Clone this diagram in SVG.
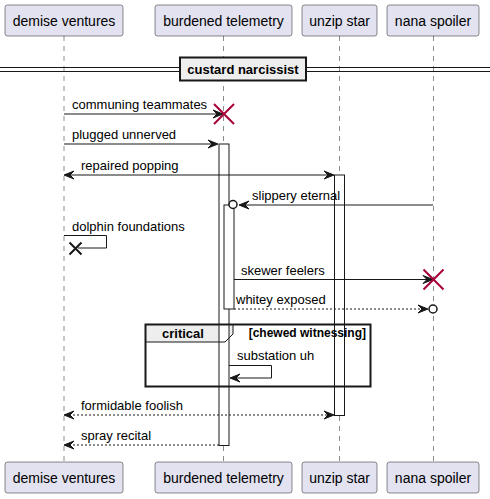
<svg xmlns="http://www.w3.org/2000/svg" width="490" height="499" viewBox="0 0 490 499">
<defs>
<style>
.pbox{fill:#E2E2F0;stroke:#181818;stroke-width:0.5}
.ptxt{font-family:"Liberation Sans",Arial,sans-serif;font-size:14px;fill:#000;text-anchor:middle}
.life{stroke:#181818;stroke-width:0.5;stroke-dasharray:5,5;fill:none}
.msg{stroke:#181818;stroke-width:1;fill:none}
.dash{stroke:#181818;stroke-width:1;stroke-dasharray:2,2;fill:none}
.head{fill:#181818;stroke:#181818;stroke-width:1}
.mtxt{font-family:"Liberation Sans",Arial,sans-serif;font-size:13px;fill:#000}
.act{fill:#FFFFFF;stroke:#181818;stroke-width:1}
.xred{stroke:#A80036;stroke-width:2;fill:none}
.xblk{stroke:#181818;stroke-width:2;fill:none}
.circ{fill:#FFFFFF;stroke:#181818;stroke-width:1.5}
.btxt{font-family:"Liberation Sans",Arial,sans-serif;font-weight:bold;font-size:13px;fill:#000}
</style>
</defs>
<rect width="490" height="499" fill="#FFFFFF"/>

<g id="lifelines">
<line class="life" x1="64" y1="36" x2="64" y2="462"/>
<line class="life" x1="223.5" y1="36" x2="223.5" y2="462"/>
<line class="life" x1="339.5" y1="36" x2="339.5" y2="462"/>
<line class="life" x1="433.5" y1="36" x2="433.5" y2="462"/>
</g>

<g id="participant-demise-ventures">
<rect class="pbox" x="5" y="5" width="118" height="31" rx="2.5"/>
<text class="ptxt" x="64" y="25.5">demise ventures</text>
<rect class="pbox" x="5" y="462" width="118" height="31" rx="2.5"/>
<text class="ptxt" x="64" y="482.5">demise ventures</text>
</g>
<g id="participant-burdened-telemetry">
<rect class="pbox" x="155" y="5" width="137" height="31" rx="2.5"/>
<text class="ptxt" x="223.5" y="25.5">burdened telemetry</text>
<rect class="pbox" x="155" y="462" width="137" height="31" rx="2.5"/>
<text class="ptxt" x="223.5" y="482.5">burdened telemetry</text>
</g>
<g id="participant-unzip-star">
<rect class="pbox" x="302" y="5" width="75" height="31" rx="2.5"/>
<text class="ptxt" x="339.5" y="25.5">unzip star</text>
<rect class="pbox" x="302" y="462" width="75" height="31" rx="2.5"/>
<text class="ptxt" x="339.5" y="482.5">unzip star</text>
</g>
<g id="participant-nana-spoiler">
<rect class="pbox" x="387" y="5" width="92" height="31" rx="2.5"/>
<text class="ptxt" x="433" y="25.5">nana spoiler</text>
<rect class="pbox" x="387" y="462" width="92" height="31" rx="2.5"/>
<text class="ptxt" x="433" y="482.5">nana spoiler</text>
</g>

<g id="divider">
<line x1="0" y1="67.5" x2="490" y2="67.5" stroke="#181818" stroke-width="1"/>
<line x1="0" y1="71.5" x2="490" y2="71.5" stroke="#181818" stroke-width="1"/>
<rect x="180" y="57.5" width="126" height="23" fill="#EEEEEE" stroke="#181818" stroke-width="2"/>
<text class="btxt" x="243" y="74" text-anchor="middle">custard narcissist</text>
</g>

<g id="critical-tab-fill">
<path d="M145.5,324.5 L233,324.5 L233,334 L225,342 L145.5,342 Z" fill="#EEEEEE"/>
</g>

<g id="activations">
<rect class="act" x="219" y="144" width="10" height="301.5"/>
<rect class="act" x="334.5" y="175" width="10" height="240.5"/>
<rect class="act" x="224" y="205" width="10" height="104"/>
</g>

<g id="critical-frame">
<rect x="145.5" y="324.5" width="225" height="62" fill="none" stroke="#181818" stroke-width="2"/>
<path d="M145.5,342 L225,342 L233,334 L233,324.5" fill="none" stroke="#181818" stroke-width="1"/>
<text class="btxt" x="162" y="338">critical</text>
<text class="btxt" x="366" y="337" text-anchor="end" style="font-size:12px">[chewed witnessing]</text>
</g>

<g id="connectors">
<!-- communing teammates -->
<line class="msg" x1="64" y1="114" x2="221" y2="114"/>
<polygon class="head" points="223,114 213,110 217,114 213,118"/>
<text class="mtxt" x="72" y="109">communing teammates</text>

<!-- plugged unnerved -->
<line class="msg" x1="64" y1="144" x2="217" y2="144"/>
<polygon class="head" points="218,144 208,140 212,144 208,148"/>
<text class="mtxt" x="72" y="139">plugged unnerved</text>

<!-- repaired popping -->
<line class="msg" x1="65" y1="175" x2="333" y2="175"/>
<polygon class="head" points="64,175 74,171 70,175 74,179"/>
<polygon class="head" points="334,175 324,171 328,175 324,179"/>
<text class="mtxt" x="81" y="170">repaired popping</text>

<!-- slippery eternal -->
<line class="msg" x1="240" y1="205" x2="433" y2="205"/>
<polygon class="head" points="239,205 249,201 245,205 249,209"/>
<circle class="circ" cx="233" cy="204.5" r="4"/>
<text class="mtxt" x="252" y="200">slippery eternal</text>

<!-- dolphin foundations -->
<polyline class="msg" points="64,235.5 106.5,235.5 106.5,248 78,248"/>
<text class="mtxt" x="72" y="231">dolphin foundations</text>

<!-- skewer feelers -->
<line class="msg" x1="234" y1="279.5" x2="431" y2="279.5"/>
<polygon class="head" points="433,279.5 423,275.5 427,279.5 423,283.5"/>
<text class="mtxt" x="241" y="274.5">skewer feelers</text>

<!-- whitey exposed -->
<line class="dash" x1="234" y1="309" x2="426" y2="309"/>
<polygon class="head" points="428,309 418,305 422,309 418,313"/>
<circle class="circ" cx="433" cy="309" r="4"/>
<text class="mtxt" x="236" y="304">whitey exposed</text>

<!-- substation uh -->
<polyline class="msg" points="229,365.5 271.5,365.5 271.5,378 231,378"/>
<polygon class="head" points="230,378 240,374 236,378 240,382"/>
<text class="mtxt" x="237" y="360">substation uh</text>

<!-- formidable foolish -->
<line class="dash" x1="65" y1="415" x2="333" y2="415"/>
<polygon class="head" points="64,415 74,411 70,415 74,419"/>
<polygon class="head" points="334,415 324,411 328,415 324,419"/>
<text class="mtxt" x="81" y="410">formidable foolish</text>

<!-- spray recital -->
<line class="dash" x1="65" y1="445" x2="219" y2="445"/>
<polygon class="head" points="64,445 74,441 70,445 74,449"/>
<text class="mtxt" x="81" y="440">spray recital</text>
</g>

<g id="destroy-marks">
<path class="xred" d="M214,104 L234,124 M234,104 L214,124"/>
<path class="xred" d="M423.5,269.5 L443.5,289.5 M443.5,269.5 L423.5,289.5"/>
<path class="xblk" d="M69.5,242.5 L81.5,254.5 M81.5,242.5 L69.5,254.5"/>
</g>
</svg>
